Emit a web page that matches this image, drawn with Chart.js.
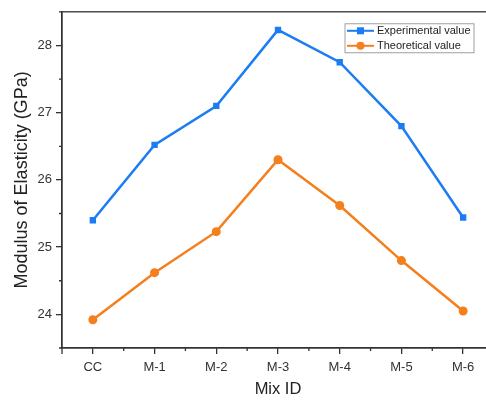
<!DOCTYPE html>
<html>
<head>
<meta charset="utf-8">
<script src="https://cdn.jsdelivr.net/npm/chart.js@4.4.0/dist/chart.umd.min.js"></script>
<style>
  html, body { margin: 0; padding: 0; overflow: hidden; background: #fff; }
  #wrap { width: 520px; height: 403px; }
</style>
</head>
<body>
<div id="wrap"><canvas id="chart"></canvas></div>
<script>
const mixIds = ['CC', 'M-1', 'M-2', 'M-3', 'M-4', 'M-5', 'M-6'];
const experimental = [25.40, 26.52, 27.10, 28.23, 27.75, 26.80, 25.44];
const theoretical = [23.92, 24.62, 25.23, 26.30, 25.62, 24.80, 24.05];
const yTicks = [24, 25, 26, 27, 28];

const blue = '#1c7cf4';
const orange = '#f47f1c';
const font = '"Liberation Sans", Arial, sans-serif';

// frame, minor ticks and the boxed legend
const extras = {
  id: 'extras',
  afterDraw(chart) {
    const c = chart.ctx, a = chart.chartArea;
    const x = chart.scales.x, y = chart.scales.y;
    c.save();
    c.strokeStyle = '#333';
    c.lineWidth = 1.3;
    c.strokeRect(a.left, a.top, a.right - a.left, a.bottom - a.top);
    c.beginPath();
    for (let i = 0; i < mixIds.length - 1; i++) {
      const px = (x.getPixelForValue(i) + x.getPixelForValue(i + 1)) / 2;
      c.moveTo(px, a.bottom); c.lineTo(px, a.bottom + 3);
    }
    c.moveTo(a.left, a.bottom); c.lineTo(a.left, a.bottom + 6);
    for (let v = 23.5; v <= 28.5; v += 1) {
      const py = y.getPixelForValue(v);
      c.moveTo(a.left, py); c.lineTo(a.left - 3, py);
    }
    c.stroke();

    // legend
    const bx = a.right - 149, by = a.top + 12, bw = 129, bh = 29;
    c.fillStyle = '#fff';
    c.fillRect(bx, by, bw, bh);
    c.strokeStyle = '#888';
    c.lineWidth = 0.8;
    c.strokeRect(bx, by, bw, bh);
    c.font = '11px ' + font;
    c.textBaseline = 'middle';
    chart.data.datasets.forEach((ds, i) => {
      const ly = by + 7 + i * 15;
      c.strokeStyle = ds.borderColor;
      c.lineWidth = 2;
      c.beginPath(); c.moveTo(bx + 2, ly); c.lineTo(bx + 29, ly); c.stroke();
      c.fillStyle = ds.borderColor;
      if (ds.pointStyle === 'rect') {
        c.fillRect(bx + 15.5 - 3.5, ly - 3.5, 7, 7);
      } else {
        c.beginPath(); c.arc(bx + 15.5, ly, 4, 0, Math.PI * 2); c.fill();
      }
      c.fillStyle = '#222';
      c.fillText(ds.label, bx + 32, ly + 0.5);
    });
    c.restore();
  }
};

new Chart(document.getElementById('chart'), {
  type: 'line',
  data: {
    labels: mixIds,
    datasets: [
      {
        label: 'Experimental value',
        data: experimental,
        borderColor: blue,
        backgroundColor: blue,
        borderWidth: 2.5,
        pointStyle: 'rect',
        pointRadius: 4.5,
        pointBorderWidth: 0,
        tension: 0
      },
      {
        label: 'Theoretical value',
        data: theoretical,
        borderColor: orange,
        backgroundColor: orange,
        borderWidth: 2.5,
        pointStyle: 'circle',
        pointRadius: 4.5,
        pointBorderWidth: 0,
        tension: 0
      }
    ]
  },
  options: {
    responsive: true,
    maintainAspectRatio: false,
    animation: false,
    layout: { padding: { left: 0, top: 7, right: 26, bottom: 0 } },
    plugins: { legend: { display: false }, tooltip: { enabled: false } },
    scales: {
      x: {
        offset: true,
        afterFit(s) { s.height = 55; },
        grid: { display: true, drawOnChartArea: false, offset: false, tickLength: 6, color: '#333', lineWidth: 1.3 },
        border: { display: true, color: '#333', width: 1.3 },
        ticks: { color: '#333', font: { family: font, size: 13 }, padding: 6 },
        title: { display: true, text: 'Mix ID', color: '#222', font: { family: font, size: 16.5 }, padding: { top: 3 } }
      },
      y: {
        min: 23.5,
        max: 28.5,
        afterFit(s) { s.width = 62; },
        afterBuildTicks(s) { s.ticks = yTicks.map(v => ({ value: v })); },
        grid: { display: true, drawOnChartArea: false, tickLength: 6, color: '#333', lineWidth: 1.3 },
        border: { display: true, color: '#333', width: 1.3 },
        ticks: { color: '#333', font: { family: font, size: 13 }, padding: 4 },
        title: { display: true, text: 'Modulus of Elasticity (GPa)', color: '#222', font: { family: font, size: 18 }, padding: { top: 11, bottom: 0 } }
      }
    }
  },
  plugins: [extras]
});
</script>
</body>
</html>
